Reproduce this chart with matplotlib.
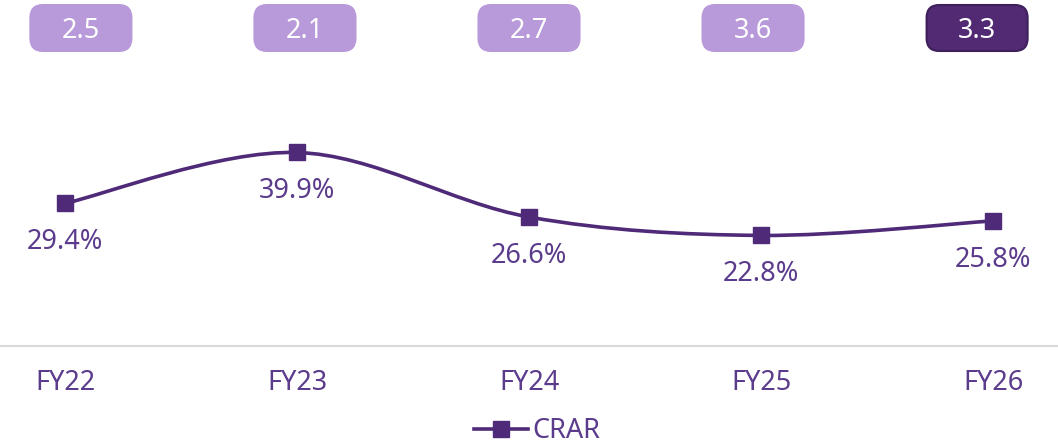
import matplotlib
matplotlib.use("Agg")
import matplotlib.pyplot as plt
from matplotlib.path import Path
from matplotlib.patches import PathPatch, FancyBboxPatch
from matplotlib.lines import Line2D
import numpy as np

plt.rcParams['font.family'] = ['Noto Sans', 'DejaVu Sans']
plt.rcParams['font.weight'] = 'light'

years = ["FY22", "FY23", "FY24", "FY25", "FY26"]
crar = [29.4, 39.9, 26.6, 22.8, 25.8]
box_values = [2.5, 2.1, 2.7, 3.6, 3.3]

LINE = "#4f2a78"
TEXT = "#5b3b8c"
LIGHT = "#b899d9"
DARK = "#512a73"
FS = 19.5

fig = plt.figure(figsize=(10.58, 4.47), dpi=100)
ax = fig.add_axes([0.0, (447 - 346) / 447, 1.0, 346 / 447])

x = np.arange(len(years))
ax.set_xlim(-0.28, 4.28)
ax.set_ylim(0, 346 / 4.85)

# smooth curve through the points (Catmull-Rom as cubic Bezier)
pts = np.column_stack([x, crar]).astype(float)
verts = [tuple(pts[0])]
codes = [Path.MOVETO]
t = 1 / 6
for i in range(len(pts) - 1):
    p0 = pts[i - 1] if i > 0 else pts[i]
    p1, p2 = pts[i], pts[i + 1]
    p3 = pts[i + 2] if i + 2 < len(pts) else pts[i + 1]
    c1 = p1 + (p2 - p0) * t
    c2 = p2 - (p3 - p1) * t
    verts += [tuple(c1), tuple(c2), tuple(p2)]
    codes += [Path.CURVE4] * 3
ax.add_patch(PathPatch(Path(verts, codes), fill=False, edgecolor=LINE, lw=2.6,
                       zorder=2))
ax.plot(x, crar, ls="none", marker="s", ms=11, color=LINE, zorder=3)

# value labels below each point
for xi, v in zip(x, crar):
    ax.annotate(f"{v}%", (xi, v), xytext=(0, -28), textcoords="offset points",
                ha="center", va="center", fontsize=FS, color=TEXT)

# baseline
ax.axhline(0, color="#d9d9d9", lw=1.5, clip_on=False)

for s in ax.spines.values():
    s.set_visible(False)
ax.set_xticks([])
ax.set_yticks([])

# category labels
for xi, lab in zip(x, years):
    ax.annotate(lab, (xi, 0), xytext=(0, -26.5), textcoords="offset points",
                ha="center", va="center", fontsize=FS, color=TEXT,
                annotation_clip=False)

# boxes along the top
box_w, box_h = 101, 46
for i, bv in enumerate(box_values):
    cx_data = 2 + (i - 2) * 225 / 233
    cx = ax.transData.transform((cx_data, 0))[0]
    cy = 447 - 28
    last = i == len(box_values) - 1
    face = DARK if last else LIGHT
    edge = "#3e1f5c" if last else LIGHT
    patch = FancyBboxPatch(((cx - box_w / 2) / 1058, (cy - box_h / 2) / 447),
                           box_w / 1058, box_h / 447,
                           boxstyle="round,pad=0,rounding_size=0.012",
                           transform=fig.transFigure, facecolor=face,
                           edgecolor=edge, lw=1.5, mutation_aspect=1058 / 447)
    fig.patches.append(patch)
    fig.text(cx / 1058, (cy - 3) / 447, f"{bv}", ha="center", va="center",
             fontsize=FS, color="white")

# legend
handle = Line2D([], [], color=LINE, lw=2.6, marker="s", ms=11)
fig.legend([handle], ["CRAR"], loc="center", bbox_to_anchor=(537 / 1058, 1 - 431 / 447),
           frameon=False, fontsize=FS, labelcolor=TEXT, handlelength=2.0,
           handletextpad=0.15)

fig.savefig("out.png", dpi=100)
